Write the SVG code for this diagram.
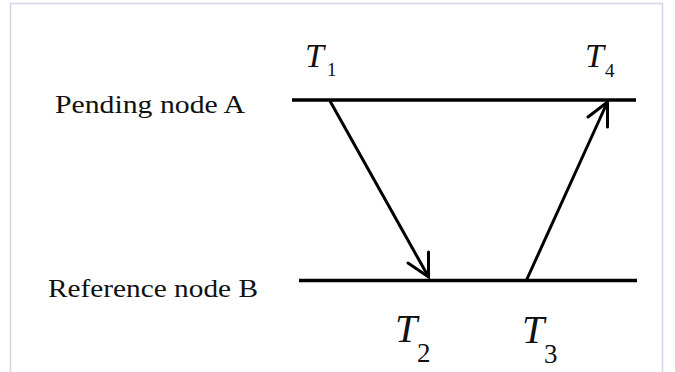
<svg xmlns="http://www.w3.org/2000/svg" width="675" height="372" viewBox="0 0 675 372">
<style>
.lbl{font-size:26px;fill:#111}
.t{font-style:italic;fill:#111}
.d{font-style:normal;fill:#111}
.ln{stroke:#000;stroke-width:3.5;stroke-linecap:butt;fill:none}
.ar{stroke:#000;stroke-width:3;fill:none;stroke-linecap:round;stroke-linejoin:miter}
</style>
<rect x="0" y="0" width="675" height="372" fill="#fff"/>
<rect x="10.5" y="3.5" width="652" height="400" fill="#fff" stroke="#d4d4ec" stroke-width="1.5"/>
<g font-family="Liberation Serif, Times New Roman, serif">
<g id="nodeA">
<text class="lbl" x="55" y="113" textLength="190" lengthAdjust="spacingAndGlyphs">Pending node A</text>
<line class="ln" x1="292" y1="100" x2="636" y2="100"/>
</g>
<g id="nodeB">
<text class="lbl" x="48" y="297" textLength="210" lengthAdjust="spacingAndGlyphs">Reference node B</text>
<line class="ln" x1="299" y1="280.5" x2="637" y2="280.5"/>
</g>
<g id="T1"><text class="t" x="305" y="67" font-size="34">T</text><text class="d" x="327" y="76" font-size="19">1</text></g>
<g id="T4"><text class="t" x="585" y="67" font-size="34">T</text><text class="d" x="605" y="77" font-size="19">4</text></g>
<g id="T2"><text class="t" x="395" y="342" font-size="40">T</text><text class="d" x="417" y="362" font-size="27">2</text></g>
<g id="T3"><text class="t" x="522" y="343" font-size="40">T</text><text class="d" x="544" y="363" font-size="27">3</text></g>
</g>
<g id="connectors">
<line class="ar" x1="330" y1="101" x2="428" y2="276"/>
<polyline class="ar" points="408,263 428.5,277 428.5,252"/>
<line class="ar" x1="527" y1="279" x2="607" y2="103"/>
<polyline class="ar" points="588,117 607.5,102 607.5,127"/>
</g>
</svg>
